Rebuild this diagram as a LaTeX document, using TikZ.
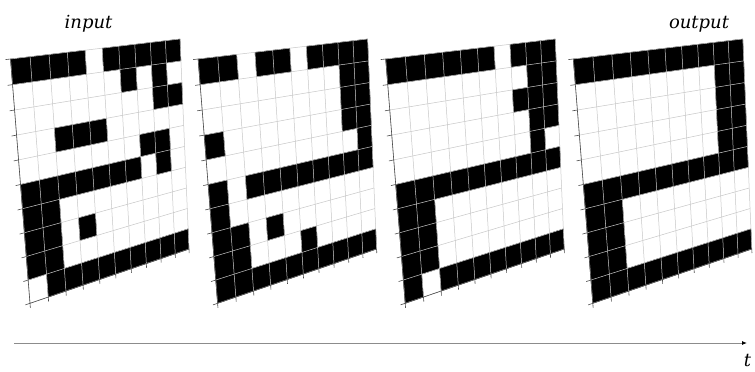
\documentclass[tikz,border=0pt]{standalone}
\usepackage{fontspec}
\newfontfamily\lblfont{DejaVu Serif}
\usetikzlibrary{arrows.meta}
\tikzset{
  declare function={
    hw(\x,\y)=1+0.17781*\x+0.05597*\y;
    hx(\x,\y)=(199.64*\x+20.59*\y)/hw(\x,\y);
    hy(\x,\y)=(-23.556*\x+257.97*\y)/hw(\x,\y);
  },
  cell/.style={fill=black,draw=black,line width=0.3pt},
  gridline/.style={draw=black!22,line width=0.5pt},
  axisline/.style={draw=black!70,line width=0.6pt},
  lbl/.style={font=\lblfont\itshape\fontsize{18}{20}\selectfont,inner sep=0pt,anchor=base},
  arrowline/.style={draw=black!45,line width=0.9pt,-{Latex[length=5pt,width=4pt,black]}}
}
\newcommand\mkgrid[3]{%
  \foreach \i in {0,...,10}{\foreach \j in {0,...,10}{
    \coordinate (#1-\i-\j) at ({#2+hx(\i/10,\j/10)},{59+hy(\i/10,\j/10)});}}
  \foreach \i in {0,...,10}{
    \coordinate (#1-L\i) at ({#2+hx(-0.025,\i/10)},{59+hy(-0.025,\i/10)});
    \coordinate (#1-B\i) at ({#2+hx(\i/10,1.02)},{59+hy(\i/10,1.02)});}
  \foreach \rowdata [count=\rr from 0] in {#3}{
    \pgfmathtruncatemacro\rn{\rr+1}
    \foreach \val [count=\cc from 0] in \rowdata{
      \pgfmathtruncatemacro\cn{\cc+1}
      \ifnum\val=1 \fill[cell] (#1-\cc-\rr) -- (#1-\cn-\rr) -- (#1-\cn-\rn) -- (#1-\cc-\rn) -- cycle;\fi
    }}
  \foreach \i in {0,...,10}{
    \draw[gridline] (#1-\i-0) -- (#1-\i-10);
    \draw[gridline] (#1-0-\i) -- (#1-10-\i);
  }
  \draw[axisline] (#1-0-0) -- (#1-0-10) -- (#1-10-10);
  \foreach \i in {0,...,10}{
    \draw[axisline] (#1-0-\i) -- (#1-L\i);
    \draw[axisline] (#1-\i-10) -- (#1-B\i);
  }
}
\begin{document}
\begin{tikzpicture}[x=1pt,y=-1pt]
\useasboundingbox[fill=white] (0,0) rectangle (755,372);
\mkgrid{ga}{10.5}{
 {1,1,1,1,0,1,1,1,1,1},
 {0,0,0,0,0,0,1,0,1,0},
 {0,0,0,0,0,0,0,0,1,1},
 {0,0,1,1,1,0,0,0,0,0},
 {0,0,0,0,0,0,0,1,1,0},
 {1,1,1,1,1,1,1,0,1,0},
 {1,1,0,0,0,0,0,0,0,0},
 {1,1,0,1,0,0,0,0,0,0},
 {1,1,0,0,0,0,0,0,0,0},
 {0,1,1,1,1,1,1,1,1,1}}
\mkgrid{gb}{198.1}{
 {1,1,0,1,1,0,1,1,1,1},
 {0,0,0,0,0,0,0,0,1,1},
 {0,0,0,0,0,0,0,0,1,1},
 {1,0,0,0,0,0,0,0,1,1},
 {0,0,0,0,0,0,0,0,0,1},
 {1,0,1,1,1,1,1,1,1,1},
 {1,0,0,0,0,0,0,0,0,0},
 {1,1,0,1,0,0,0,0,0,0},
 {1,1,0,0,0,1,0,0,0,0},
 {1,1,1,1,1,1,1,1,1,1}}
\mkgrid{gc}{385.7}{
 {1,1,1,1,1,1,0,1,1,1},
 {0,0,0,0,0,0,0,0,1,1},
 {0,0,0,0,0,0,0,1,1,1},
 {0,0,0,0,0,0,0,0,1,1},
 {0,0,0,0,0,0,0,0,1,0},
 {1,1,1,1,1,1,1,1,1,1},
 {1,1,0,0,0,0,0,0,0,0},
 {1,1,0,0,0,0,0,0,0,0},
 {1,1,0,0,0,0,0,0,0,0},
 {1,0,1,1,1,1,1,1,1,1}}
\mkgrid{gd}{573.3}{
 {1,1,1,1,1,1,1,1,1,1},
 {0,0,0,0,0,0,0,0,1,1},
 {0,0,0,0,0,0,0,0,1,1},
 {0,0,0,0,0,0,0,0,1,1},
 {0,0,0,0,0,0,0,0,1,1},
 {1,1,1,1,1,1,1,1,1,1},
 {1,1,0,0,0,0,0,0,0,0},
 {1,1,0,0,0,0,0,0,0,0},
 {1,1,0,0,0,0,0,0,0,0},
 {1,1,1,1,1,1,1,1,1,1}}
\node[lbl] (inlbl) at (88.5,28) {input};
\node[lbl] (outlbl) at (699,28) {output};
\node[lbl] (tlbl) at (747.5,366) {t};
\coordinate (ta) at (14,343);
\coordinate (tb) at (747,343);
\draw[arrowline] (ta) -- (tb);
\end{tikzpicture}
\end{document}
